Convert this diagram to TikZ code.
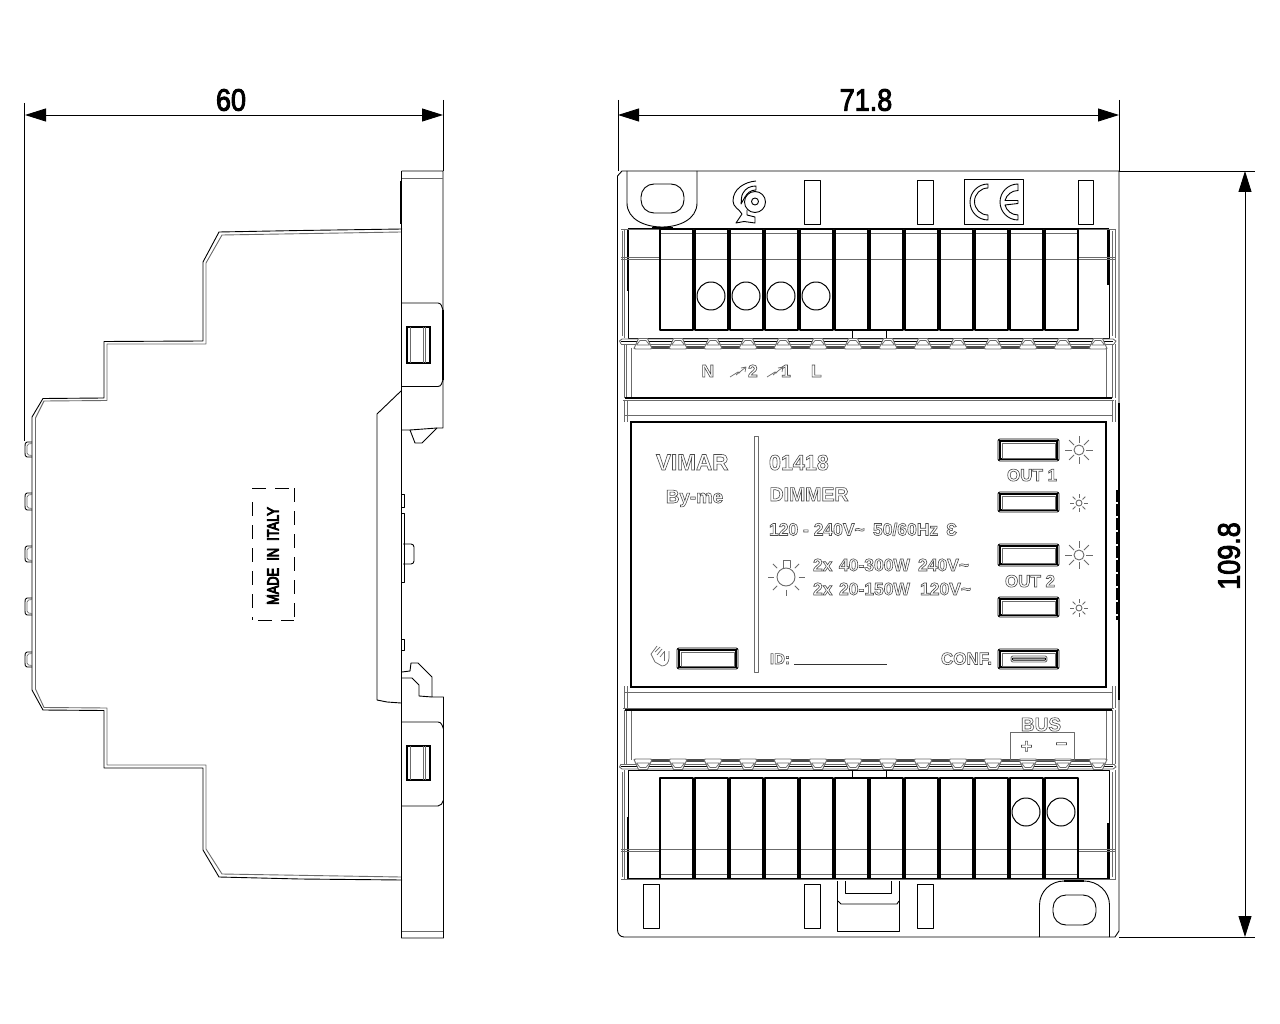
\documentclass[tikz,border=0pt]{standalone}
\usepackage{fontspec}
\usepackage{graphicx}
\setmainfont{Liberation Sans}
\definecolor{gl}{gray}{0.42}
\definecolor{dk}{gray}{0.3}
\newcommand{\outl}[1]{\special{pdf:code q 1 Tr 0.6 w 0.3 G}\bfseries #1\special{pdf:code Q}}
\newcommand{\outk}[2][1.0]{\special{pdf:code q 2 Tr #1 w 0 G}#2\special{pdf:code Q}}
\newcommand{\fs}[1]{\fontsize{#1}{#1}\selectfont}
\newcommand{\tld}{\char"7E\relax}
\usetikzlibrary{arrows.meta,calc}
\tikzset{
 ln/.style={line width=0.9pt,black,line join=round},
 gr/.style={line width=0.9pt,gl,line join=round},
 hv/.style={line width=1.6pt,black},
 lab/.style={inner sep=0pt,outer sep=0pt,anchor=base west,font=\fs{17.5}},
 dimtxt/.style={inner sep=0pt,outer sep=0pt,font=\fs{31}},
 dimline/.style={line width=0.9pt,black},
 dimarrow/.style={line width=0.9pt,black,{Triangle[length=21pt,width=13pt]}-{Triangle[length=21pt,width=13pt]}}
}
\newcommand{\sun}[4]{% cx cy r len
 \draw[gr] (#1,#2) circle (#3);
 \foreach \a in {0,45,...,315}{\draw[gr] ($(#1,#2)+(\a:#3+2)$) -- ($(#1,#2)+(\a:#3+2+#4)$);}
}
\newcommand{\btn}[4]{% x1 y1 x2 y2
 \draw[ln,rounded corners=2pt] (#1,#2) rectangle (#3,#4);
 \draw[line width=1.5pt,black] (#1+2,#2+2) rectangle (#3-2,#4-2);
 \draw[gr,line width=0.7pt] (#1+4,#2+4) rectangle (#3-4,#4-3);
}
\newcommand{\termband}{%
 % frame
 \draw[ln,line width=1.2pt] (628,229) -- (1109,229);
 \draw[ln] (628,229) -- (628,338) -- (1109,338) -- (1109,229);
 \draw[hv,line width=2pt] (628,229) -- (628,291);
 \draw[hv,line width=2pt] (1108,229) -- (1108,285);
 \draw[gr] (622,231) -- (622,336) (624.5,229) -- (624.5,338) (621,229) -- (1116,229);
 \draw[gr] (1112,231) -- (1112,336) (1115,229) -- (1115,338);
 \draw[gr] (621,259) -- (1116,259);
 \draw[gr] (621,257) -- (660,257) (1077,257) -- (1116,257);
 % terminals
 \foreach \x in {660,695,...,1045}{
  \draw[ln,line width=1.3pt] (\x,229.5) rectangle (\x+33,330);
  \draw[gr,line width=1.2pt] (\x+1,233.5) -- (\x+32,233.5);
 }
 \draw[ln,fill=white] (852,330.8) rectangle (886,338);
 % band
 \draw[gr] (621,344) -- (619.5,341) -- (622,339) -- (1113,339) -- (1116,341) -- (1114,344);
 \draw[line width=1.3pt,black] (621,341.5) -- (1113,341.5);
 \draw[gr] (621,344) -- (1114,344);
 \draw[line width=2.2pt,dk] (643,347.5) -- (1097,347.5);
 \foreach \x in {643,678,...,1098}{
  \draw[gr,fill=white,line width=0.9pt] (\x-9,348.5) -- (\x-4.5,338.5) -- (\x+4.5,338.5) -- (\x+9,348.5) -- (\x+7,349) -- (\x-7,349) -- cycle;
  \draw[gr,line width=0.7pt] (\x-6.5,345) -- (\x+6.5,345) (\x-6.5,345) -- (\x-3,340.5) -- (\x+3,340.5) -- (\x+6.5,345);
 }
 % panel
 \draw[gr] (631,348) -- (631,398) (1106,348) -- (1106,398);
 \draw[gr] (624.5,344) -- (624.5,398) (626.5,344) -- (626.5,398) (1112,344) -- (1112,398) (1115,344) -- (1115,398);
 \draw[ln,line width=1.2pt] (625,398) -- (1112,398);
 \draw[gr] (623,400) -- (1114,400);
 \draw[gr] (624.5,400) -- (624.5,422) (627,400) -- (627,422) (1112,400) -- (1112,422) (1115,400) -- (1115,422);
 \draw[gr] (624,415.5) -- (1113,415.5);
}
\begin{document}
\begin{tikzpicture}[x=1pt,y=-1pt]
\useasboundingbox (0,0) rectangle (1280,1024);
\fill[white] (0,0) rectangle (1280,1024);
% ================ SIDE VIEW
\draw[ln] (402,229) -- (300,230.5) -- (219,232) -- (203,262) -- (203,341) -- (104,341.5) -- (104,398) -- (43,398.5) -- (32,417) -- (32,690) -- (43,710) -- (104,710.5) -- (104,768) -- (203,768) -- (203,850) -- (219,877) -- (300,879) -- (402,880);
\draw[gr] (401,232) -- (222,235) -- (206,263) -- (206,344) -- (107,344) -- (107,400.5) -- (44,401) -- (35.5,418) -- (35.5,689) -- (44,707.5) -- (107,708) -- (107,765) -- (206,765) -- (206,849) -- (222,874) -- (401,877);
\foreach \y/\h in {442/15,493/17,546/16,598/17,652/15}{
 \draw[ln] (32,\y) -- (27,\y) to[out=180,in=90] (25,\y+4) -- (25,\y+\h-4) to[out=-90,in=180] (27,\y+\h) -- (32,\y+\h);
 \draw[gr,line width=0.7pt] (32,\y+1.5) -- (28.5,\y+2) -- (27,\y+4) -- (27,\y+\h-4) -- (28.5,\y+\h-2) -- (32,\y+\h-1.5);
}
% rail piece
\draw[ln] (402,171) -- (443,171) -- (443,428) -- (437,428) -- (422,443) -- (415,443) -- (410,430) -- (402,430);
\draw[ln] (410,430) -- (437,428);
\draw[gr] (402,178) -- (443,178);
\draw[ln] (401.5,171) -- (401.5,938) -- (443.5,938) -- (443.5,697) -- (441,697) -- (432,697) -- (432,677) -- (418,663) -- (411,663) -- (410,671) -- (402,672);
\draw[ln] (402,678) -- (412,678) -- (419,685) -- (419,696) -- (432,697);
\draw[hv] (401,181) -- (401,224);
\draw[gr] (402,931) -- (443,931);
\draw[ln] (402,303) -- (438,303) to[out=0,in=110] (443,310) -- (443,380) to[out=-110,in=0] (438,386.5) -- (402,386.5);
\draw[hv] (443,310) -- (443,380);
\draw[ln] (402,722) -- (438,722) to[out=0,in=110] (443.5,729) -- (443.5,800) to[out=-110,in=0] (438,806) -- (402,806);
\draw[hv] (443.5,729) -- (443.5,800);
\draw[line width=2pt] (407,327) rectangle (429.5,363);
\draw[gr] (410,327) -- (410,363) (423,327) -- (423,363) (425,327) -- (425,363);
\draw[line width=2pt] (407,746) rectangle (429.5,780);
\draw[gr] (410,746) -- (410,780) (423,746) -- (423,780) (425,746) -- (425,780);
% inner rail
\draw[ln] (401,391) -- (377,414) -- (377,700) -- (387,702) -- (401,703);
\draw[ln] (402,494) -- (404,494) -- (404,507) -- (402,507);
\draw[ln] (402,513) -- (404,513) -- (404,582) -- (402,582);
\draw[ln] (403,544) -- (411,544) to[out=0,in=90] (414,547) -- (414,561) to[out=-90,in=0] (411,564) -- (403,564);
\draw[ln] (402,639) -- (404,639) -- (404,650) -- (402,650);
% made in italy
\draw[line width=0.9pt,black,dash pattern=on 14pt off 9pt] (252,488) -- (294,488);
\draw[line width=0.9pt,black,dash pattern=on 14pt off 9pt] (252,502) -- (252,620);
\draw[line width=0.9pt,black,dash pattern=on 14pt off 9pt] (294,488) -- (294,620);
\draw[line width=0.9pt,black,dash pattern=on 14pt off 9pt] (258,620) -- (294,620);
\node[inner sep=0pt,rotate=90,font=\fs{16}] (italy) at (273,556) {\outk[1.0]{\scalebox{.8}[1]{MADE\ \ IN\ \ ITALY}}};
% ================ DIMENSIONS
\coordinate (a1) at (25,115); \coordinate (a2) at (443,115);
\coordinate (b1) at (618,115); \coordinate (b2) at (1119,115);
\coordinate (c1) at (1245,171); \coordinate (c2) at (1245,937);
\draw[dimarrow] (a1) -- (a2);
\draw[dimarrow] (b1) -- (b2);
\draw[dimarrow] (c1) -- (c2);
\draw[dimline] (24.5,103) -- (24.5,441) (443.5,100) -- (443.5,171);
\draw[dimline] (618,100) -- (618,171) (1119.5,100) -- (1119.5,171);
\draw[dimline] (1119,171) -- (1255,171) (1119,937.5) -- (1255,937.5);
\node[dimtxt] (d60) at (231,100) {\outk{\scalebox{.87}[1]{60}}};
\node[dimtxt] (d71) at (866,100) {\outk{\scalebox{.87}[1]{71.8}}};
\node[dimtxt,rotate=90] (d109) at (1229,556) {\outk{\scalebox{.87}[1]{109.8}}};
% ================ FRONT VIEW
\draw[ln] (617.5,176) -- (622,171) -- (1119,171) -- (1119,931) -- (1115,937) -- (624,937) to[out=180,in=-90] (617.5,930) -- cycle;
\draw[hv] (617.5,393) -- (617.5,701);
\draw[hv] (1119,403) -- (1119,700);
\draw[line width=2.4pt,black,dash pattern=on 12pt off 2pt] (1117.5,490) -- (1117.5,620);
% top tab
\draw[ln] (627,171) -- (627,203) to[out=-90,in=180] (662,227) to[out=0,in=-90] (697,203) -- (697,171);
\draw[line width=2pt] (652,228) -- (673,228);
\draw[ln,rounded corners=13pt] (641,184) rectangle (684,213);
\draw[ln] (804.5,180) rectangle (820,224);
\draw[ln] (917.5,180) rectangle (933,224);
\draw[ln] (1078.5,180) rectangle (1093.5,224);
% logo
\draw[ln] (755,202) circle (10.5);
\draw[ln] (755,201.5) circle (3.5);
\draw[ln] (756,186) to[out=180,in=60] (743,193) to[out=-120,in=80] (741,204) -- (745,197) to[out=60,in=180] (756,190) -- cycle;
\draw[ln] (756,181) to[out=185,in=90] (733,201) to[out=-90,in=120] (742,214) -- (736,223) -- (744,221.5) -- (755,223) -- (755,217) -- (747,215) -- (747,210);
% CE
\draw[ln] (988,184) arc (270:90:18) -- (988,215) arc (90:270:13.5) -- cycle;
\draw[ln] (1018,184) arc (270:90:18) -- (1018,215) arc (90:165:13.5) -- (1018,203.5) -- (1018,200.5) -- (1005,200.5) arc (195:270:13.5) -- cycle;
\draw[ln] (964.5,179) rectangle (1023.5,224);
% bands
\termband
\begin{scope}[shift={(0,1108)},yscale=-1]
\termband
\end{scope}
\foreach \x in {711,746,781,816}{\draw[ln,line width=1pt,fill=white] (\x,296) circle (14);}
\foreach \x in {1026,1061}{\draw[ln,line width=1pt,fill=white] (\x,812) circle (14);}
% bottom
\draw[ln] (643.5,884) rectangle (659.5,928);
\draw[ln] (804.5,884) rectangle (820,928);
\draw[ln] (917.5,884) rectangle (933,928);
\draw[ln] (837.5,881) -- (837.5,931) -- (899.5,931) -- (899.5,881);
\draw[ln] (838,901) -- (841,904) -- (897,904) -- (899,901);
\draw[ln] (845.5,881) -- (845.5,893) -- (891.5,893) -- (891.5,881);
\draw[ln] (1039.5,937) -- (1039.5,905) to[out=90,in=180] (1064,881) -- (1084,881) to[out=0,in=90] (1109.5,905) -- (1109.5,937);
\draw[line width=2pt] (1064,881) -- (1084,881);
\draw[ln,rounded corners=13pt] (1053,895) rectangle (1096,925);
% panel
\draw[line width=1.8pt,black] (631,422) rectangle (1106,687);
\draw[gr] (754,436) rectangle (758,672);
\btn{998}{439}{1059}{461}
\btn{998}{492}{1059}{512}
\btn{998}{544}{1059}{566}
\btn{998}{597}{1059}{617}
\btn{998}{649}{1059}{669}
\btn{677}{648}{738}{669}
\draw[gr,rounded corners=2pt] (1011,656) rectangle (1047,662);
\draw[ln,line width=1pt,rounded corners=1pt] (1012,658) rectangle (1046,660);
% sun icons
\sun{1079}{450}{5}{7}
\sun{1079}{555}{5}{7}
\sun{1079}{503}{3}{4}
\sun{1079}{608}{3}{4}
% lamp
\draw[gr] (786,577) circle (9);
\draw[gr] (783,568) -- (783,560) -- (790,560) -- (790,568);
\foreach \a in {0,45,90,135,180,225,315}{\draw[gr] ($(786,577)+(\a:12.5)$) -- ($(786,577)+(\a:18.5)$);}
% hand
\draw[gr,line width=0.7pt] (657,646) -- (651,654) -- (655,662) -- (662,666) to[out=0,in=-90] (669,658) -- (669,651);
\draw[gr,line width=0.7pt] (655,652) -- (660,647) (657,655) -- (662,649) (660,657) -- (664,652);
\draw[gr,line width=0.7pt] (664,651) -- (664,661);
% text
\node[lab,font=\fs{22.5}] (vimar) at (656,470) {\outl{VIMAR}};
\node[lab,font=\fs{18.7}] (byme) at (666,503) {\outl{By-me}};
\node[lab,font=\fs{21.5}] (code) at (769,470) {\outl{01418}};
\node[lab,font=\fs{19.5}] (dim) at (769.5,501) {\outl{DIMMER}};
\node[lab] (volt) at (769,535.5) {\outl{120 - 240V\tld}};
\node[lab] (hz) at (873,535.5) {\outl{50/60Hz}};
\node[lab] (epsi) at (946,535.5) {\outl{\char"0190}};
\node[lab] (l1a) at (813,571) {\outl{2x}};
\node[lab] (l1b) at (839,571) {\outl{40-300W}};
\node[lab] (l1c) at (918,571) {\outl{240V\tld}};
\node[lab] (l2a) at (813,595) {\outl{2x}};
\node[lab] (l2b) at (839,595) {\outl{20-150W}};
\node[lab] (l2c) at (920,595) {\outl{120V\tld}};
\node[lab,font=\fs{15}] (idt) at (770,664) {\outl{ID:}};
\draw[gr,black!80] (794,664.5) -- (887,664.5);
\node[lab,font=\fs{17}] (conf) at (941,664.5) {\outl{CONF.}};
\node[lab,font=\fs{17}] (o1) at (1007,481) {\outl{OUT 1}};
\node[lab,font=\fs{17}] (o2) at (1005,587) {\outl{OUT 2}};
\node[lab] (tn) at (701.5,377) {\outl{N}};
\node[lab] (t2) at (748,377) {\outl{2}};
\node[lab] (t1) at (781,377) {\outl{1}};
\node[lab] (tl) at (811,377) {\outl{L}};
\draw[gr,line width=0.7pt] (730,377) -- (738,372) -- (740,373) (736,375) -- (746,367) -- (741,368) (746,367) -- (745,372);
\draw[gr,line width=0.7pt] (767,377) -- (775,372) -- (777,373) (773,375) -- (783,367) -- (778,368) (783,367) -- (782,372);
\node[lab,font=\fs{19}] (bus) at (1021,731) {\outl{BUS}};
\draw[gr] (1010.5,732) rectangle (1074.5,760);
\node[inner sep=0pt,font=\fs{20}] (pl) at (1026.5,747) {\outl{+}};
\node[inner sep=0pt,font=\fs{20}] (mi) at (1061.5,746.5) {\outl{\char"2212}};
\end{tikzpicture}
\end{document}
